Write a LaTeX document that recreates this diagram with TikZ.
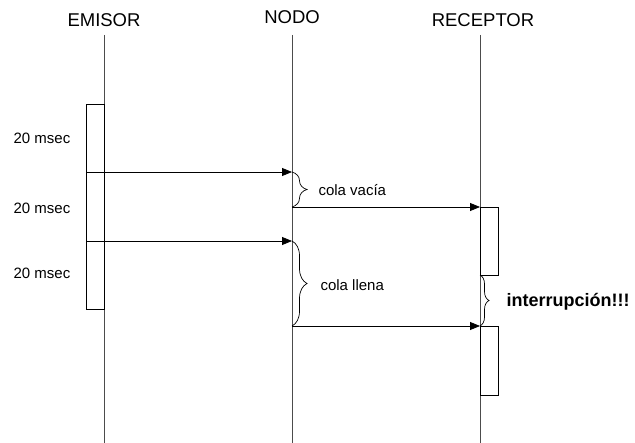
\documentclass[tikz,border=0pt]{standalone}
\usepackage{fontspec}
\setmainfont{Liberation Sans}
\usetikzlibrary{arrows.meta,decorations.pathreplacing}

\begin{document}
\begin{tikzpicture}[x=1pt,y=-1pt,
    life/.style={draw=black!70,line width=0.9pt},
    actbox/.style={draw,fill=white,line width=0.8pt},
    msg/.style={line width=0.8pt,-{Triangle[length=10pt,width=8pt]}},
    curly/.style={decorate,decoration={brace,amplitude=#1},line width=0.7pt},
    head/.style={font=\fontsize{18.5}{21}\selectfont},
    lbl/.style={font=\fontsize{15}{18}\selectfont}]
    \useasboundingbox (0,0) rectangle (635,443);

    % Lifelines
    \node[head] (emisor) at (104,20) {EMISOR};
    \node[head] (nodo) at (292,17) {NODO};
    \node[head] (receptor) at (483,20) {RECEPTOR};
    \coordinate (emTop) at (104,35);  \coordinate (emBot) at (104,443);
    \coordinate (ndTop) at (292,35);  \coordinate (ndBot) at (292,443);
    \coordinate (rcTop) at (480,35);  \coordinate (rcBot) at (480,443);
    \draw[life] (emTop) -- (emBot);
    \draw[life] (ndTop) -- (ndBot);
    \draw[life] (rcTop) -- (rcBot);

    % Activation boxes
    \draw[actbox] (86,104) rectangle (104,309);
    \draw[actbox] (480,207) rectangle (498,275);
    \draw[actbox] (480,326) rectangle (498,395);

    % Packets
    \coordinate (s1) at (86,172);   \coordinate (n1) at (292,172);
    \coordinate (s2) at (86,241);   \coordinate (n2) at (292,241);
    \coordinate (n3) at (292,207);  \coordinate (r1) at (480,207);
    \coordinate (n4) at (292,326);  \coordinate (r2) at (480,326);
    \coordinate (r3) at (480,275);
    \draw[msg] (s1) -- (n1);
    \draw[msg] (s2) -- (n2);
    \draw[msg] (n3) -- (r1);
    \draw[msg] (n4) -- (r2);

    % Queue braces
    \draw[curly=15pt] (n1) -- (n3);
    \draw[curly=15pt] (n2) -- (n4);
    \draw[curly=9pt] (r3) -- (r2);

    % Labels
    \node[lbl] (t1) at (42,138) {20 msec};
    \node[lbl] (t2) at (42,208) {20 msec};
    \node[lbl] (t3) at (42,273) {20 msec};
    \node[lbl,anchor=west] (vacia) at (315,190) {cola vacía};
    \node[lbl,anchor=west] (llena) at (317,285) {cola llena};
    \node[anchor=west,font=\fontsize{18}{21}\selectfont\bfseries] (intr) at (503,302) {interrupción!!!};
\end{tikzpicture}
\end{document}
